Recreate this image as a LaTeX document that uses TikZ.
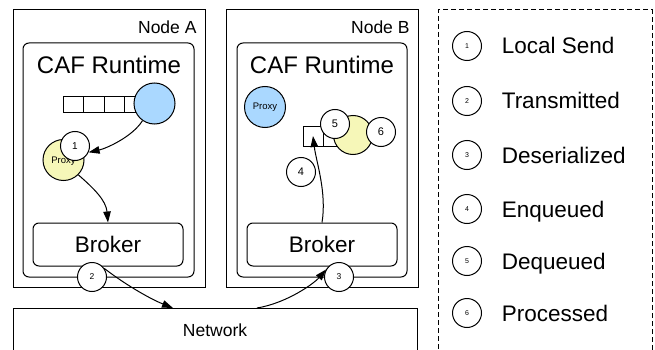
\documentclass[tikz,border=0pt]{standalone}
\usepackage{fontspec}
\setmainfont{Liberation Sans}
\usetikzlibrary{arrows.meta}
\newcommand\myfs[1]{\fontsize{#1}{#1}\selectfont}
\definecolor{actblue}{RGB}{170,216,255}
\definecolor{actyel}{RGB}{246,247,184}
\begin{document}
\begin{tikzpicture}[x=1pt,y=-1pt,line width=1pt,
  box/.style={draw, rectangle, inner sep=0pt},
  rbox/.style={box, rounded corners=6pt},
  cell/.style={box, minimum width=20.5pt, minimum height=16pt},
  actor/.style={draw, circle, minimum size=41pt, inner sep=0pt, font=\myfs{9.5}},
  num/.style={draw, circle, fill=white, minimum size=29pt, inner sep=0pt, font=\myfs{10}},
  lnum/.style={num, font=\myfs{7}},
  arr/.style={-{Triangle[length=11pt,width=7.5pt]}},
  lbl/.style={anchor=base west, font=\myfs{22.5}}
  ]
\useasboundingbox (0,0) rectangle (655,350);
\clip (0,0) rectangle (655,350);
% Node A
\node[box, minimum width=192pt, minimum height=277pt] (nodeA) at (109,148.5) {};
\node[anchor=base east, font=\myfs{17.5}, inner sep=0pt] (labA) at (197,34) {Node A};
\node[rbox, minimum width=171pt, minimum height=234pt] (runA) at (108.5,160) {};
\node[anchor=base, font=\myfs{24}, inner sep=0pt] (cafA) at (109,74) {CAF Runtime};
\node[cell] (qa1) at (73.25,105) {};
\node[cell] (qa2) at (93.75,105) {};
\node[cell] (qa3) at (114.25,105) {};
\node[cell] (qa4) at (134.75,105) {};
\node[actor, fill=actblue] (blueA) at (154.5,103.5) {};
\node[actor, fill=actyel, text depth=-4pt] (proxyA) at (63.5,160) {Proxy};
\node[num] (c1) at (75,146) {1};
\node[rbox, minimum width=150pt, minimum height=43pt, font=\myfs{22.5}] (brokerA) at (108,244.5) {Broker};
\node[num, font=\myfs{8.5}] (c2) at (92,277) {2};
% Node B
\node[box, minimum width=192pt, minimum height=277pt] (nodeB) at (322,148.5) {};
\node[anchor=base east, font=\myfs{17.5}, inner sep=0pt] (labB) at (410,34) {Node B};
\node[rbox, minimum width=170pt, minimum height=234pt] (runB) at (322,160) {};
\node[anchor=base, font=\myfs{24}, inner sep=0pt] (cafB) at (322,74) {CAF Runtime};
\node[actor, fill=actblue] (proxyB) at (265,107) {Proxy};
\node[cell, minimum width=20pt, minimum height=20pt] (qb1) at (313,136) {};
\node[cell, minimum width=20pt, minimum height=20pt] (qb2) at (333,136) {};
\node[actor, fill=actyel, minimum size=39pt] (yelB) at (353,135) {};
\node[num, font=\myfs{11}] (c5) at (335,124) {5};
\node[num, font=\myfs{11}] (c6) at (381,132) {6};
\node[num, font=\myfs{11}] (c4) at (301,172) {4};
\node[rbox, minimum width=150pt, minimum height=43pt, font=\myfs{22.5}] (brokerB) at (322,244.5) {Broker};
\node[num, font=\myfs{8.5}] (c3) at (339,277) {3};
% Network
\node[box, minimum width=404pt, minimum height=44pt, font=\myfs{17.5}] (net) at (215,330) {Network};
\coordinate (n1) at (173,308);
\coordinate (n2) at (257,308);
% arrows
\draw[arr] (blueA.235) .. controls +(-10,16) and +(18,-4) .. (c1.-25);
\draw[arr] (proxyA.-45) .. controls +(16,14) and +(-2,-22) .. (brokerA.north);
\draw[arr] (c2.35) .. controls +(18,14) and +(-25,-10) .. (n1);
\draw[arr] (n2) .. controls +(30,-5) and +(-12,14) .. (c3.150);
\draw[arr] (brokerB.north) .. controls +(5,-30) and +(3,25) .. (qb1.center);
% Legend
\node[draw, dash pattern=on 5pt off 3pt, minimum width=214pt, minimum height=350pt, inner sep=0pt] (legend) at (545,185) {};
\node[lnum] (l1) at (467,46) {1};
\node[lnum] (l2) at (467,101) {2};
\node[lnum] (l3) at (467,155) {3};
\node[lnum] (l4) at (467,209) {4};
\node[lnum] (l5) at (467,261) {5};
\node[lnum] (l6) at (467,313) {6};
\node[lbl] (t1) at (498,54) {Local Send};
\node[lbl] (t2) at (498,109) {Transmitted};
\node[lbl] (t3) at (498,163) {Deserialized};
\node[lbl] (t4) at (498,217) {Enqueued};
\node[lbl] (t5) at (498,269) {Dequeued};
\node[lbl] (t6) at (498,321) {Processed};
\end{tikzpicture}
\end{document}
